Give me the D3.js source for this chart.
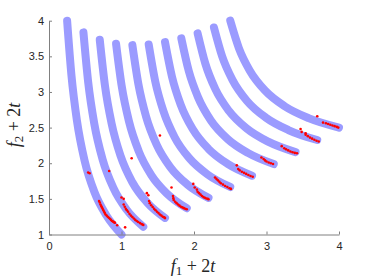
<!DOCTYPE html>
<html lang="en">
<head>
<meta charset="utf-8">
<script src="https://d3js.org/d3.v7.min.js"></script>
<style>
  body { margin: 0; background: #fff; }
  .tick text { font-family: "Liberation Sans", Arial, sans-serif; font-size: 11px; fill: #262626; }
  .lbl { font-family: "Liberation Serif", "DejaVu Serif", serif; font-size: 18px; fill: #262626; }
</style>
</head>
<body>
<div id="chart"></div>
<script>
// pareto fronts, one per shift (f1+2t, f2+2t)
const frontF1 = [
  [0.25, 0.31, 0.385, 0.49, 0.625, 0.79, 1.0],
  [0.475, 0.541, 0.624, 0.739, 0.888, 1.069, 1.3],
  [0.7, 0.772, 0.862, 0.988, 1.15, 1.348, 1.6],
  [0.925, 1.003, 1.101, 1.237, 1.413, 1.627, 1.9],
  [1.15, 1.234, 1.339, 1.486, 1.675, 1.906, 2.2],
  [1.375, 1.465, 1.578, 1.735, 1.938, 2.185, 2.5],
  [1.6, 1.696, 1.816, 1.984, 2.2, 2.464, 2.8],
  [1.825, 1.927, 2.055, 2.233, 2.463, 2.743, 3.1],
  [2.05, 2.158, 2.293, 2.482, 2.725, 3.022, 3.4],
  [2.275, 2.389, 2.532, 2.731, 2.988, 3.301, 3.7],
  [2.5, 2.62, 2.77, 2.98, 3.25, 3.58, 4.0]
];
const frontF2 = [
  [4.0, 3.23, 2.6, 2.04, 1.6, 1.27, 1.0],
  [3.836, 3.133, 2.558, 2.055, 1.654, 1.351, 1.109],
  [3.733, 3.088, 2.565, 2.101, 1.733, 1.455, 1.233],
  [3.677, 3.081, 2.596, 2.17, 1.831, 1.574, 1.369],
  [3.657, 3.104, 2.655, 2.258, 1.943, 1.704, 1.514],
  [3.667, 3.151, 2.732, 2.361, 2.067, 1.844, 1.667],
  [3.7, 3.216, 2.823, 2.476, 2.2, 1.991, 1.825],
  [3.753, 3.298, 2.928, 2.6, 2.341, 2.145, 1.988],
  [3.822, 3.392, 3.043, 2.734, 2.489, 2.303, 2.156],
  [3.905, 3.498, 3.167, 2.874, 2.642, 2.466, 2.326],
  [4.0, 3.613, 3.299, 3.02, 2.8, 2.633, 2.5]
];

// obtained solutions (red)
const solutions = [
  [0.54,1.87],[0.56,1.86],[0.83,1.89],[1.14,2.07],[1.53,2.39],
  [0.69,1.47],[0.70,1.45],[0.71,1.42],[0.72,1.40],[0.73,1.38],[0.74,1.36],[0.75,1.34],
  [0.76,1.32],[0.77,1.30],[0.78,1.28],[0.795,1.265],[0.81,1.25],[0.825,1.235],[0.84,1.22],
  [0.855,1.205],[0.87,1.19],[0.885,1.18],[0.90,1.17],[0.91,1.165],[0.94,1.13],[1.05,1.10],
  [1.00,1.52],[1.03,1.50],
  [1.03,1.42],[1.045,1.39],[1.06,1.36],[1.075,1.34],[1.09,1.32],[1.11,1.29],[1.13,1.265],
  [1.15,1.245],[1.17,1.225],[1.19,1.205],[1.21,1.19],[1.23,1.175],[1.255,1.16],[1.28,1.145],[1.30,1.135],
  [1.35,1.58],[1.37,1.55],[1.38,1.47],
  [1.39,1.44],[1.41,1.41],[1.43,1.385],[1.45,1.36],[1.47,1.34],[1.49,1.32],[1.51,1.30],
  [1.53,1.28],[1.55,1.265],[1.57,1.25],[1.59,1.24],[1.60,1.23],
  [1.69,1.66],[1.71,1.54],[1.715,1.51],
  [1.72,1.485],[1.74,1.46],[1.76,1.44],[1.78,1.42],[1.80,1.405],[1.82,1.39],[1.84,1.38],
  [1.86,1.37],[1.88,1.36],[1.90,1.355],
  [1.99,1.71],[2.01,1.66],[2.04,1.63],
  [2.05,1.60],[2.07,1.58],[2.09,1.56],[2.11,1.54],[2.13,1.525],[2.15,1.515],[2.17,1.505],[2.19,1.50],[2.20,1.495],
  [2.29,1.80],
  [2.31,1.78],[2.33,1.76],[2.35,1.74],[2.37,1.72],[2.40,1.70],[2.43,1.68],[2.46,1.665],[2.49,1.65],[2.51,1.64],
  [2.59,1.97],
  [2.61,1.92],[2.63,1.90],[2.66,1.88],[2.69,1.865],[2.72,1.85],[2.75,1.835],[2.78,1.82],[2.81,1.81],
  [2.93,2.08],
  [2.96,2.06],[2.98,2.04],[3.00,2.025],[3.03,2.01],[3.06,2.00],[3.09,1.99],
  [3.21,2.24],
  [3.245,2.21],[3.27,2.195],[3.30,2.18],[3.33,2.165],[3.36,2.155],[3.39,2.145],[3.42,2.14],
  [3.47,2.48],[3.485,2.44],[3.54,2.42],
  [3.54,2.40],[3.57,2.38],[3.60,2.36],[3.63,2.345],[3.66,2.33],[3.69,2.315],[3.72,2.305],
  [3.70,2.66],[3.78,2.57],
  [3.82,2.56],[3.85,2.55],[3.88,2.54],[3.91,2.53],[3.94,2.52],[3.97,2.51],[3.99,2.50]
];

const xTicks = [0, 1, 2, 3, 4];
const yTicks = [1, 1.5, 2, 2.5, 3, 3.5, 4];

const W = 374, H = 280;
const plotLeft = 49, plotRight = 339, plotTop = 20.7, plotBottom = 234.5;

const svg = d3.select("#chart").append("svg")
  .attr("width", W)
  .attr("height", H);

const x = d3.scaleLinear().domain([0, 4]).range([plotLeft, plotRight]);
const y = d3.scaleLinear().domain([1, 4]).range([plotBottom, plotTop]);

// fronts as thick light blue bands
const line = d3.line()
  .x(d => x(d[0]))
  .y(d => y(d[1]))
  .curve(d3.curveMonotoneX);

frontF1.forEach(function (xs, i) {
  const pts = xs.map((v, j) => [v, frontF2[i][j]]);
  svg.append("path")
    .datum(pts)
    .attr("fill", "none")
    .attr("stroke", "#9b9bff")
    .attr("stroke-width", 8)
    .attr("stroke-linecap", "round")
    .attr("d", line);
});

// red dots
svg.append("g").selectAll("circle")
  .data(solutions)
  .join("circle")
  .attr("cx", d => x(d[0]))
  .attr("cy", d => y(d[1]))
  .attr("r", 1.3)
  .attr("fill", "#ff0000");

// axes
const xAxis = svg.append("g")
  .attr("transform", "translate(0," + plotBottom + ")")
  .call(d3.axisBottom(x).tickValues(xTicks).tickSizeInner(-3).tickSizeOuter(0).tickPadding(8).tickFormat(d => String(d)));

const yAxis = svg.append("g")
  .attr("transform", "translate(" + plotLeft + ",0)")
  .call(d3.axisLeft(y).tickValues(yTicks).tickSizeInner(-3).tickSizeOuter(0).tickPadding(5).tickFormat(d => String(d)));

[xAxis, yAxis].forEach(function (g) {
  g.select(".domain").attr("stroke", "#808080");
  g.selectAll(".tick line").attr("stroke", "#808080");
});

// axis labels: f_1 + 2t, f_2 + 2t
function mathLabel(g, sub) {
  const t = g.append("text").attr("class", "lbl").attr("text-anchor", "middle");
  t.append("tspan").attr("font-style", "italic").text("f");
  t.append("tspan").attr("font-size", "13px").attr("dy", 3).text(sub);
  t.append("tspan").attr("dy", -3).text("\u2005+\u20052");
  t.append("tspan").attr("font-style", "italic").text("t");
  return t;
}

mathLabel(svg.append("g").attr("transform", "translate(193,272)"), "1");
mathLabel(svg.append("g").attr("transform", "translate(20,125) rotate(-90)"), "2");
</script>
</body>
</html>
